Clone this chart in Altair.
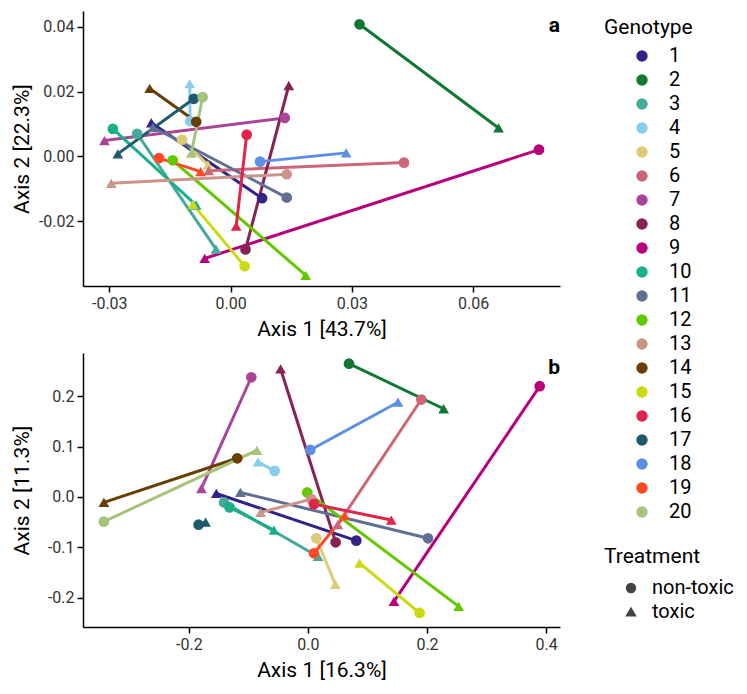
import altair as alt
import pandas as pd

FONT = "Roboto"

genotypes = [str(i) for i in range(1, 21)]
colors = ["#332288", "#117733", "#44AA99", "#88CCEE", "#DDCC77", "#CC6677",
          "#AA4499", "#882255", "#B8007C", "#1AAF8B", "#5F7094", "#62C800",
          "#CC958A", "#6A3D05", "#CCDB11", "#E0244A", "#1F5A6E", "#5B8FE3",
          "#FF4922", "#A6C47C"]
treatments = ["non-toxic", "toxic"]

# Panel a (Axis 1 [43.7%] / Axis 2 [22.3%])
a_nt_x = [0.0078, 0.0319, -0.0231, -0.0100, -0.0120, 0.0429, 0.0134, 0.0037, 0.0763, -0.0291,
          0.0139, -0.0143, 0.0139, -0.0085, 0.0035, 0.0040, -0.0091, 0.0073, -0.0177, -0.0069]
a_nt_y = [-0.0129, 0.0408, 0.0070, 0.0109, 0.0052, -0.0019, 0.0119, -0.0287, 0.0021, 0.0085,
          -0.0127, -0.0012, -0.0055, 0.0107, -0.0339, 0.0067, 0.0178, -0.0016, -0.0005, 0.0183]
a_t_x = [-0.0196, 0.0663, -0.0036, -0.0101, -0.0056, -0.0054, -0.0312, 0.0144, -0.0064, -0.0085,
         -0.0192, 0.0186, -0.0295, -0.0200, -0.0093, 0.0014, -0.0279, 0.0286, -0.0074, -0.0097]
a_t_y = [0.0104, 0.0088, -0.0286, 0.0225, -0.0026, -0.0044, 0.0049, 0.0219, -0.0315, -0.0150,
         0.0090, -0.0367, -0.0083, 0.0210, -0.0148, -0.0215, 0.0008, 0.0011, -0.0047, 0.0010]

# Panel b (Axis 1 [16.3%] / Axis 2 [11.3%])
b_nt_x = [0.0812, 0.0689, -0.1410, -0.0560, 0.0140, 0.1905, -0.0952, 0.0465, 0.3894, -0.1317,
          0.2017, -0.0012, 0.0056, -0.1188, 0.1877, 0.0101, -0.1838, 0.0039, 0.0101, -0.3430]
b_nt_y = [-0.0866, 0.2644, -0.0109, 0.0518, -0.0820, 0.1933, 0.2375, -0.0900, 0.2197, -0.0207,
          -0.0820, 0.0089, -0.0043, 0.0767, -0.2302, -0.0142, -0.0550, 0.0932, -0.1117, -0.0490]
b_t_x = [-0.1540, 0.2280, 0.0168, -0.0840, 0.0460, 0.0500, -0.1790, -0.0459, 0.1445, -0.0571,
         -0.1137, 0.2532, -0.0795, -0.3429, 0.0868, 0.1400, -0.1720, 0.1513, 0.0616, -0.0857]
b_t_y = [0.0069, 0.1750, -0.1180, 0.0695, -0.1736, -0.0550, 0.0168, 0.2540, -0.2072, -0.0656,
         0.0089, -0.2170, -0.0306, -0.0109, -0.1314, -0.0458, -0.0500, 0.1880, -0.0370, 0.0925]

a_xticks = [-0.03, 0.0, 0.03, 0.06]
a_yticks = [-0.02, 0.0, 0.02, 0.04]
b_xticks = [-0.2, 0.0, 0.2, 0.4]
b_yticks = [-0.2, -0.1, 0.0, 0.1, 0.2]

# separate key for the connecting segments, so their (hidden) scale does not
# share a domain with the Genotype colour legend
line_keys = ["seg" + g for g in genotypes]


def frame(ntx, nty, tx, ty):
    rows = []
    for i, g in enumerate(genotypes):
        rows.append({"Genotype": g, "Line": line_keys[i], "Treatment": "non-toxic",
                     "x": ntx[i], "y": nty[i], "ord": 0})
        rows.append({"Genotype": g, "Line": line_keys[i], "Treatment": "toxic",
                     "x": tx[i], "y": ty[i], "ord": 1})
    return pd.DataFrame(rows)


def tick_expr(d):
    return f"(datum.value < 0 ? '-' : '') + format(abs(datum.value), '.{d}f')"


W = 477


def panel(df, xdom, ydom, xticks, yticks, dec, xtitle, ytitle, tag, h):
    x = alt.X("x:Q", scale=alt.Scale(domain=xdom, nice=False, zero=False),
              axis=alt.Axis(values=xticks, labelExpr=tick_expr(dec), title=xtitle,
                            titlePadding=7))
    y = alt.Y("y:Q", scale=alt.Scale(domain=ydom, nice=False, zero=False),
              axis=alt.Axis(values=yticks, labelExpr=tick_expr(dec), title=ytitle,
                            minExtent=43, maxExtent=43, titlePadding=8))
    base = alt.Chart(df)
    lines = base.mark_line(strokeWidth=3).encode(
        x=x, y=y,
        stroke=alt.Stroke("Line:N", scale=alt.Scale(domain=line_keys, range=colors), legend=None),
        detail="Line:N",
        order="ord:Q",
    )
    pts = base.mark_point(filled=True, size=115, opacity=1).encode(
        x=x, y=y,
        color=alt.Color("Genotype:N", scale=alt.Scale(domain=genotypes, range=colors),
                        legend=alt.Legend(title=[" ", "Genotype"], titleLineHeight=6,
                                          symbolType="circle", symbolSize=130,
                                          symbolOffset=28, labelOffset=17, rowPadding=4,
                                          symbolStrokeWidth=0, offset=44)),
        shape=alt.Shape("Treatment:N", scale=alt.Scale(domain=treatments, range=["circle", "triangle-up"]),
                        legend=alt.Legend(title=[" ", "Treatment"], titleLineHeight=16,
                                          symbolSize=80, symbolOffset=17,
                                          labelOffset=11, rowPadding=4, titlePadding=11,
                                          offset=44,
                                          symbolFillColor="#444444", symbolStrokeColor="#444444")),
    )
    lab = alt.Chart(pd.DataFrame({"t": [tag]})).mark_text(
        fontSize=21, fontWeight="bold", align="right", baseline="middle", font=FONT, color="black"
    ).encode(text="t:N", x=alt.value(W), y=alt.value(15))
    return alt.layer(lines, pts, lab).properties(width=W, height=h)


pa = panel(frame(a_nt_x, a_nt_y, a_t_x, a_t_y), [-0.0365, 0.0815], [-0.040, 0.0449],
           a_xticks, a_yticks, 2, "Axis 1 [43.7%]", "Axis 2 [22.3%]", "a", 275)
pb = panel(frame(b_nt_x, b_nt_y, b_t_x, b_t_y), [-0.378, 0.4235], [-0.258, 0.2856],
           b_xticks, b_yticks, 1, "Axis 1 [16.3%]", "Axis 2 [11.3%]", "b", 274)

chart = alt.vconcat(pa, pb, spacing=14).properties(
    padding={"left": 3, "top": 3, "right": 0, "bottom": 0}
).configure(font=FONT).configure_view(
    strokeWidth=0
).configure_axis(
    domainColor="black", domainWidth=1.5, tickColor="black", tickWidth=1.5, tickSize=6,
    grid=False, labelFont=FONT, labelFontSize=16, labelColor="#333333", labelPadding=3,
    titleFont=FONT, titleFontSize=21, titleFontWeight="normal", titleColor="black"
).configure_legend(
    titleFont=FONT, titleFontSize=21, titleFontWeight="normal", titleColor="black",
    labelFont=FONT, labelFontSize=20, labelColor="black", titlePadding=8
)

chart.save("out.html", embed_options={"renderer": "svg", "actions": False})
